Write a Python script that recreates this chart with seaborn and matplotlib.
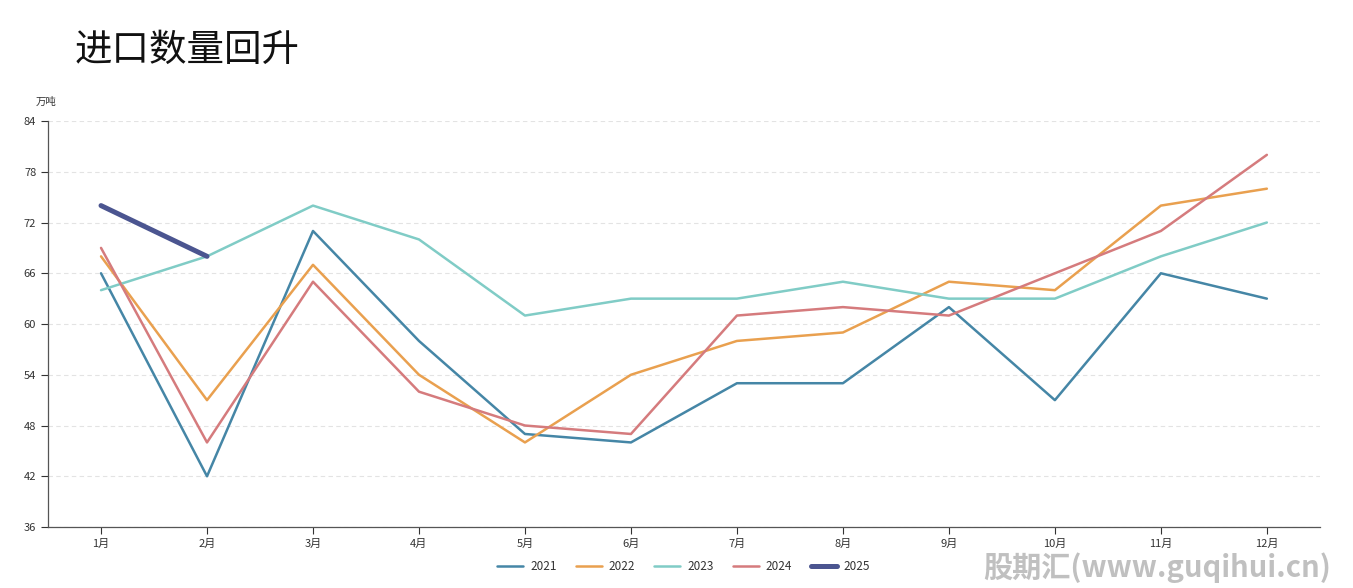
import matplotlib
matplotlib.use('Agg')
import matplotlib.pyplot as plt
import seaborn as sns
import numpy as np
import pandas as pd

# Data (unit: 万吨)
months = ['1月', '2月', '3月', '4月', '5月', '6月', '7月', '8月', '9月', '10月', '11月', '12月']
y2021 = [66, 42, 71, 58, 47, 46, 53, 53, 62, 51, 66, 63]
y2022 = [68, 51, 67, 54, 46, 54, 58, 59, 65, 64, 74, 76]
y2023 = [64, 68, 74, 70, 61, 63, 63, 65, 63, 63, 68, 72]
y2024 = [69, 46, 65, 52, 48, 47, 61, 62, 61, 66, 71, 80]
y2025 = [74, 68]
y_ticks = [36, 42, 48, 54, 60, 66, 72, 78, 84]

series = {'2021': y2021, '2022': y2022, '2023': y2023, '2024': y2024, '2025': y2025}
colors = {'2021': '#4586a6', '2022': '#e9a04f', '2023': '#80ccc6',
          '2024': '#d57b7d', '2025': '#4b5590'}
widths = {'2021': 1.8, '2022': 1.8, '2023': 1.8, '2024': 1.8, '2025': 3.6}

rows = []
for name, vals in series.items():
    for i, v in enumerate(vals):
        rows.append({'year': name, 'pos': i, 'value': v})
df = pd.DataFrame(rows)

sns.set_theme(style='white')
plt.rcParams['font.family'] = ['Noto Sans CJK SC', 'DejaVu Sans']

fig = plt.figure(figsize=(13.53, 5.88), dpi=100)
ax = fig.add_axes([0.0355, 0.1037, 0.94, 0.6905])

for name in series:
    sub = df[df['year'] == name]
    sns.lineplot(data=sub, x='pos', y='value', ax=ax, color=colors[name],
                 linewidth=widths[name], label=name)

ax.set_xlim(-0.5, 11.5)
ax.set_ylim(36, 84)
ax.set_xticks(range(len(months)))
ax.set_xticklabels(months)
ax.set_yticks(y_ticks)
ax.set_xlabel('')
ax.set_ylabel('')
ax.tick_params(axis='both', labelsize=8, colors='#333333', length=5, width=0.8,
               direction='out', bottom=True, left=True)
for lbl in ax.get_xticklabels() + ax.get_yticklabels():
    lbl.set_color('#333333')

ax.yaxis.grid(True, linestyle=(0, (4, 3)), color='#e3e3e3', linewidth=0.8)
ax.xaxis.grid(False)
for side in ['top', 'right']:
    ax.spines[side].set_visible(False)
for side in ['left', 'bottom']:
    ax.spines[side].set_color('#555555')
    ax.spines[side].set_linewidth(0.9)

leg = ax.legend(loc='upper center', bbox_to_anchor=(0.5, -0.055), ncol=5,
                frameon=False, fontsize=8.5, handlelength=2.2, columnspacing=1.6,
                handletextpad=0.6)
for t in leg.get_texts():
    t.set_color('#333333')

fig.text(0.055, 0.915, '进口数量回升', fontsize=27, color='#111111', va='center')
fig.text(0.026, 0.826, '万吨', fontsize=7.5, color='#333333', va='center')
# site watermark, kept just below the month labels
fig.text(0.984, 0.035, '股期汇(www.guqihui.cn)', fontsize=21, color='#b5b5b5',
         fontweight='bold', style='italic', ha='right', va='center', alpha=0.85)

fig.savefig('out.png', dpi=100)
plt.close(fig)
